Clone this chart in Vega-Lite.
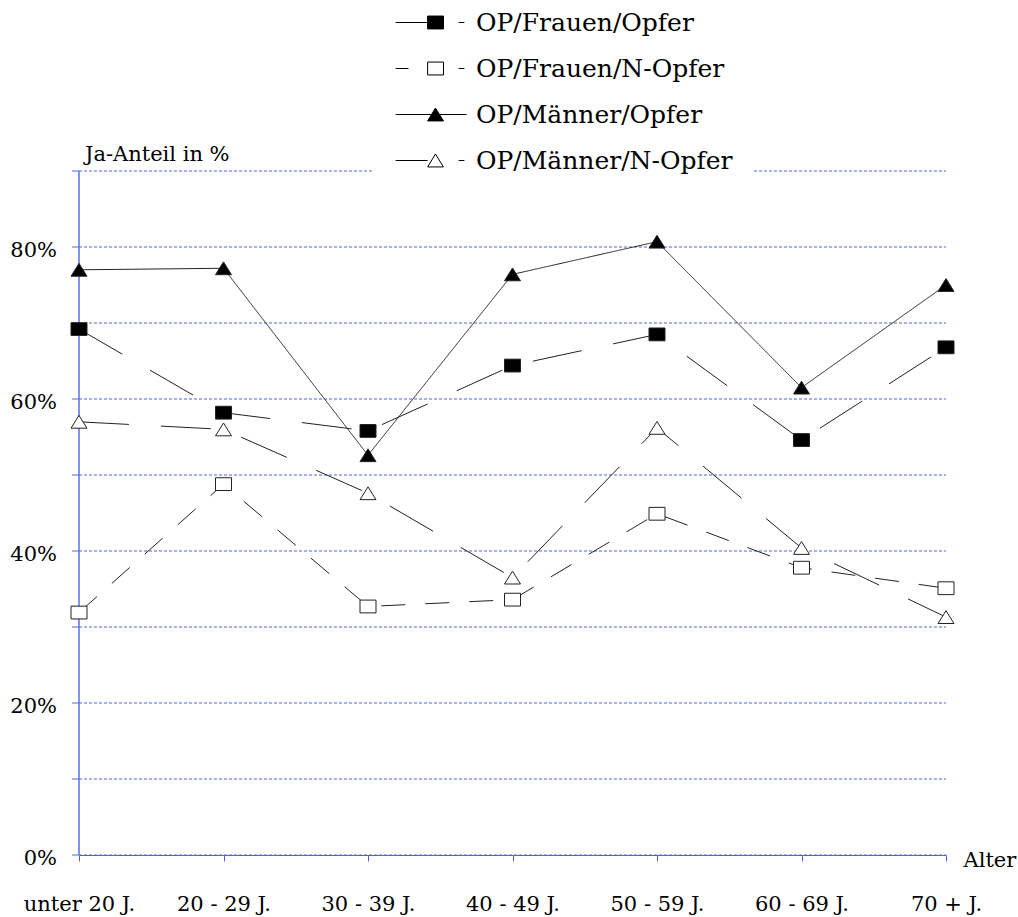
{
  "$schema": "https://vega.github.io/schema/vega-lite/v6.json",
  "width": 867,
  "height": 684,
  "autosize": {"type": "none"},
  "padding": {"left": 79, "top": 171, "right": 72, "bottom": 62},
  "background": "white",
  "config": {"view": {"stroke": null}, "font": "DejaVu Serif"},
  "data": {
    "values": [
      {"serie": "OP/Frauen/Opfer", "alter": "unter 20 J.", "anteil": 0.692},
      {"serie": "OP/Frauen/Opfer", "alter": "20 - 29 J.", "anteil": 0.582},
      {"serie": "OP/Frauen/Opfer", "alter": "30 - 39 J.", "anteil": 0.558},
      {"serie": "OP/Frauen/Opfer", "alter": "40 - 49 J.", "anteil": 0.644},
      {"serie": "OP/Frauen/Opfer", "alter": "50 - 59 J.", "anteil": 0.685},
      {"serie": "OP/Frauen/Opfer", "alter": "60 - 69 J.", "anteil": 0.546},
      {"serie": "OP/Frauen/Opfer", "alter": "70 + J.", "anteil": 0.668},
      {"serie": "OP/Frauen/N-Opfer", "alter": "unter 20 J.", "anteil": 0.319},
      {"serie": "OP/Frauen/N-Opfer", "alter": "20 - 29 J.", "anteil": 0.488},
      {"serie": "OP/Frauen/N-Opfer", "alter": "30 - 39 J.", "anteil": 0.327},
      {"serie": "OP/Frauen/N-Opfer", "alter": "40 - 49 J.", "anteil": 0.336},
      {"serie": "OP/Frauen/N-Opfer", "alter": "50 - 59 J.", "anteil": 0.449},
      {"serie": "OP/Frauen/N-Opfer", "alter": "60 - 69 J.", "anteil": 0.378},
      {"serie": "OP/Frauen/N-Opfer", "alter": "70 + J.", "anteil": 0.351},
      {"serie": "OP/Männer/Opfer", "alter": "unter 20 J.", "anteil": 0.770},
      {"serie": "OP/Männer/Opfer", "alter": "20 - 29 J.", "anteil": 0.772},
      {"serie": "OP/Männer/Opfer", "alter": "30 - 39 J.", "anteil": 0.526},
      {"serie": "OP/Männer/Opfer", "alter": "40 - 49 J.", "anteil": 0.764},
      {"serie": "OP/Männer/Opfer", "alter": "50 - 59 J.", "anteil": 0.807},
      {"serie": "OP/Männer/Opfer", "alter": "60 - 69 J.", "anteil": 0.615},
      {"serie": "OP/Männer/Opfer", "alter": "70 + J.", "anteil": 0.750},
      {"serie": "OP/Männer/N-Opfer", "alter": "unter 20 J.", "anteil": 0.570},
      {"serie": "OP/Männer/N-Opfer", "alter": "20 - 29 J.", "anteil": 0.560},
      {"serie": "OP/Männer/N-Opfer", "alter": "30 - 39 J.", "anteil": 0.476},
      {"serie": "OP/Männer/N-Opfer", "alter": "40 - 49 J.", "anteil": 0.365},
      {"serie": "OP/Männer/N-Opfer", "alter": "50 - 59 J.", "anteil": 0.562},
      {"serie": "OP/Männer/N-Opfer", "alter": "60 - 69 J.", "anteil": 0.404},
      {"serie": "OP/Männer/N-Opfer", "alter": "70 + J.", "anteil": 0.313}
    ]
  },
  "encoding": {
    "x": {
      "field": "alter",
      "type": "ordinal",
      "sort": ["unter 20 J.", "20 - 29 J.", "30 - 39 J.", "40 - 49 J.", "50 - 59 J.", "60 - 69 J.", "70 + J."],
      "scale": {"type": "point", "padding": 0},
      "axis": {
        "title": "Alter",
        "titleAngle": 0,
        "titleX": 884,
        "titleY": 5,
        "titleAlign": "left",
        "titleBaseline": "middle",
        "titleFont": "DejaVu Serif",
        "titleFontSize": 21,
        "titleFontWeight": "normal",
        "titleColor": "black",
        "labelAngle": 0,
        "labelFont": "DejaVu Serif",
        "labelFontSize": 21,
        "labelColor": "black",
        "labelPadding": 32,
        "tickSize": 6,
        "domainColor": "#4f64e6",
        "tickColor": "#4f64e6",
        "grid": false
      }
    },
    "y": {
      "field": "anteil",
      "type": "quantitative",
      "scale": {"domain": [0, 0.9], "nice": false},
      "axis": {
        "title": "Ja-Anteil in %",
        "titleAngle": 0,
        "titleX": 6,
        "titleY": -16,
        "titleAlign": "left",
        "titleBaseline": "middle",
        "titleFont": "DejaVu Serif",
        "titleFontSize": 21,
        "titleFontWeight": "normal",
        "titleColor": "black",
        "values": [0, 0.1, 0.2, 0.3, 0.4, 0.5, 0.6, 0.7, 0.8, 0.9],
        "format": ".0%",
        "labelExpr": "round(datum.value * 10) % 2 == 0 ? datum.label : ''",
        "labelFont": "DejaVu Serif",
        "labelFontSize": 21,
        "labelColor": "black",
        "labelPadding": 15,
        "labelOffset": 4,
        "tickSize": 7,
        "translate": 0,
        "domainColor": "#5a6ef0",
        "domainWidth": 1.5,
        "tickColor": "#4f64e6",
        "grid": true,
        "gridColor": "#4a60ea",
        "gridDash": [3, 2],
        "gridWidth": 1
      }
    }
  },
  "layer": [
    {
      "mark": {"type": "line", "color": "#222222", "strokeWidth": 1},
      "encoding": {
        "strokeDash": {
          "field": "serie",
          "type": "nominal",
          "scale": {
            "domain": ["OP/Frauen/Opfer", "OP/Frauen/N-Opfer", "OP/Männer/Opfer", "OP/Männer/N-Opfer"],
            "range": [[50, 32], [24, 20], [1, 0], [50, 32]]
          },
          "legend": null
        }
      }
    },
    {
      "mark": {"type": "point", "filled": true, "stroke": "#222222", "strokeWidth": 1, "size": 256, "opacity": 1},
      "encoding": {
        "shape": {
          "field": "serie",
          "type": "nominal",
          "scale": {
            "domain": ["OP/Frauen/Opfer", "OP/Frauen/N-Opfer", "OP/Männer/Opfer", "OP/Männer/N-Opfer"],
            "range": ["M-1,-0.8H1V0.8H-1Z", "M-1,-0.8H1V0.8H-1Z", "M0,-0.8L1,0.8H-1Z", "M0,-0.8L1,0.8H-1Z"]
          },
          "legend": null
        },
        "fill": {
          "field": "serie",
          "type": "nominal",
          "scale": {
            "domain": ["OP/Frauen/Opfer", "OP/Frauen/N-Opfer", "OP/Männer/Opfer", "OP/Männer/N-Opfer"],
            "range": ["black", "white", "black", "white"]
          },
          "legend": null
        }
      }
    },
    {
      "mark": {"type": "point", "filled": true, "stroke": "black", "strokeWidth": 1, "opacity": 0},
      "encoding": {
        "shape": {
          "field": "serie",
          "type": "nominal",
          "scale": {
            "domain": ["OP/Frauen/Opfer", "OP/Frauen/N-Opfer", "OP/Männer/Opfer", "OP/Männer/N-Opfer"],
            "range": [
              "M-0.95,0H0.44M1.79,0H2.04M0.44,-0.28H1.13V0.28H0.44Z",
              "M-0.95,0H-0.39M1.79,0H2.04M0.44,-0.28H1.13V0.28H0.44Z",
              "M-0.95,0H2.13M0.78,-0.28L1.13,0.28H0.44Z",
              "M-0.95,0H0.44M1.79,0H2.04M0.78,-0.28L1.13,0.28H0.44Z"
            ]
          },
          "legend": {
            "title": null,
            "orient": "none",
            "legendX": 295,
            "legendY": -192,
            "symbolSize": 2116,
            "symbolStrokeWidth": 1,
            "symbolStrokeColor": "black",
            "symbolOpacity": 1,
            "labelFont": "DejaVu Serif",
            "labelFontSize": 25,
            "labelColor": "black",
            "labelOffset": 35,
            "labelLimit": 0,
            "padding": 20,
            "fillColor": "white",
            "rowPadding": 9,
            "encode": {"symbols": {"update": {"stroke": {"value": "black"}, "strokeWidth": {"value": 1}, "opacity": {"value": 1}}}}
          }
        },
        "fill": {
          "field": "serie",
          "type": "nominal",
          "scale": {
            "domain": ["OP/Frauen/Opfer", "OP/Frauen/N-Opfer", "OP/Männer/Opfer", "OP/Männer/N-Opfer"],
            "range": ["black", "white", "black", "white"]
          },
          "legend": {
            "title": null,
            "orient": "none",
            "legendX": 295,
            "legendY": -192,
            "symbolSize": 2116,
            "symbolStrokeWidth": 1,
            "symbolStrokeColor": "black",
            "symbolOpacity": 1,
            "labelFont": "DejaVu Serif",
            "labelFontSize": 25,
            "labelColor": "black",
            "labelOffset": 35,
            "labelLimit": 0,
            "padding": 20,
            "fillColor": "white",
            "rowPadding": 9,
            "encode": {"symbols": {"update": {"stroke": {"value": "black"}, "strokeWidth": {"value": 1}, "opacity": {"value": 1}}}}
          }
        }
      }
    }
  ],
  "resolve": {"scale": {"shape": "independent", "fill": "independent", "strokeDash": "independent"}}
}
